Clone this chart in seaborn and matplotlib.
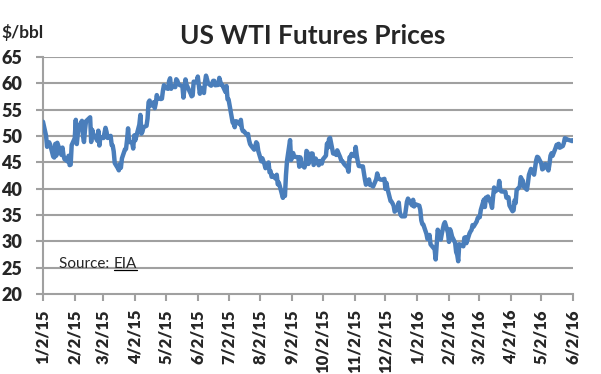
import pandas as pd
import numpy as np
import matplotlib
matplotlib.use('Agg')
import matplotlib.pyplot as plt
import matplotlib.dates as mdates
import seaborn as sns

# WTI daily prices, $/bbl
dates = [
    # 2015
    '2015-01-02','2015-01-05','2015-01-06','2015-01-07','2015-01-08','2015-01-09','2015-01-12','2015-01-13',
    '2015-01-14','2015-01-15','2015-01-16','2015-01-20','2015-01-21','2015-01-22','2015-01-23','2015-01-26',
    '2015-01-27','2015-01-28','2015-01-29','2015-01-30',
    '2015-02-02','2015-02-03','2015-02-04','2015-02-05','2015-02-06','2015-02-09','2015-02-10','2015-02-11',
    '2015-02-12','2015-02-13','2015-02-17','2015-02-18','2015-02-19','2015-02-20','2015-02-23','2015-02-24',
    '2015-02-25','2015-02-26','2015-02-27',
    '2015-03-02','2015-03-03','2015-03-04','2015-03-05','2015-03-06','2015-03-09','2015-03-10','2015-03-11',
    '2015-03-12','2015-03-13','2015-03-16','2015-03-17','2015-03-18','2015-03-19','2015-03-20','2015-03-23',
    '2015-03-24','2015-03-25','2015-03-26','2015-03-27','2015-03-30','2015-03-31',
    '2015-04-01','2015-04-02','2015-04-06','2015-04-07','2015-04-08','2015-04-09','2015-04-10','2015-04-13',
    '2015-04-14','2015-04-15','2015-04-16','2015-04-17','2015-04-20','2015-04-21','2015-04-22','2015-04-23',
    '2015-04-24','2015-04-27','2015-04-28','2015-04-29','2015-04-30',
    '2015-05-01','2015-05-04','2015-05-05','2015-05-06','2015-05-07','2015-05-08','2015-05-11','2015-05-12',
    '2015-05-13','2015-05-14','2015-05-15','2015-05-18','2015-05-19','2015-05-20','2015-05-21','2015-05-22',
    '2015-05-26','2015-05-27','2015-05-28','2015-05-29',
    '2015-06-01','2015-06-02','2015-06-03','2015-06-04','2015-06-05','2015-06-08','2015-06-09','2015-06-10',
    '2015-06-11','2015-06-12','2015-06-15','2015-06-16','2015-06-17','2015-06-18','2015-06-19','2015-06-22',
    '2015-06-23','2015-06-24','2015-06-25','2015-06-26','2015-06-29','2015-06-30',
    '2015-07-01','2015-07-02','2015-07-06','2015-07-07','2015-07-08','2015-07-09','2015-07-10','2015-07-13',
    '2015-07-14','2015-07-15','2015-07-16','2015-07-17','2015-07-20','2015-07-21','2015-07-22','2015-07-23',
    '2015-07-24','2015-07-27','2015-07-28','2015-07-29','2015-07-30','2015-07-31',
    '2015-08-03','2015-08-04','2015-08-05','2015-08-06','2015-08-07','2015-08-10','2015-08-11','2015-08-12',
    '2015-08-13','2015-08-14','2015-08-17','2015-08-18','2015-08-19','2015-08-20','2015-08-21','2015-08-24',
    '2015-08-25','2015-08-26','2015-08-27','2015-08-28','2015-08-31',
    '2015-09-01','2015-09-02','2015-09-03','2015-09-04','2015-09-08','2015-09-09','2015-09-10','2015-09-11',
    '2015-09-14','2015-09-15','2015-09-16','2015-09-17','2015-09-18','2015-09-21','2015-09-22','2015-09-23',
    '2015-09-24','2015-09-25','2015-09-28','2015-09-29','2015-09-30',
    '2015-10-01','2015-10-02','2015-10-05','2015-10-06','2015-10-07','2015-10-08','2015-10-09','2015-10-12',
    '2015-10-13','2015-10-14','2015-10-15','2015-10-16','2015-10-19','2015-10-20','2015-10-21','2015-10-22',
    '2015-10-23','2015-10-26','2015-10-27','2015-10-28','2015-10-29','2015-10-30',
    '2015-11-02','2015-11-03','2015-11-04','2015-11-05','2015-11-06','2015-11-09','2015-11-10','2015-11-11',
    '2015-11-12','2015-11-13','2015-11-16','2015-11-17','2015-11-18','2015-11-19','2015-11-20','2015-11-23',
    '2015-11-24','2015-11-25','2015-11-27','2015-11-30',
    '2015-12-01','2015-12-02','2015-12-03','2015-12-04','2015-12-07','2015-12-08','2015-12-09','2015-12-10',
    '2015-12-11','2015-12-14','2015-12-15','2015-12-16','2015-12-17','2015-12-18','2015-12-21','2015-12-22',
    '2015-12-23','2015-12-24','2015-12-28','2015-12-29','2015-12-30','2015-12-31',
    # 2016
    '2016-01-04','2016-01-05','2016-01-06','2016-01-07','2016-01-08','2016-01-11','2016-01-12','2016-01-13',
    '2016-01-14','2016-01-15','2016-01-19','2016-01-20','2016-01-21','2016-01-22','2016-01-25','2016-01-26',
    '2016-01-27','2016-01-28','2016-01-29',
    '2016-02-01','2016-02-02','2016-02-03','2016-02-04','2016-02-05','2016-02-08','2016-02-09','2016-02-10',
    '2016-02-11','2016-02-12','2016-02-16','2016-02-17','2016-02-18','2016-02-19','2016-02-22','2016-02-23',
    '2016-02-24','2016-02-25','2016-02-26','2016-02-29',
    '2016-03-01','2016-03-02','2016-03-03','2016-03-04','2016-03-07','2016-03-08','2016-03-09','2016-03-10',
    '2016-03-11','2016-03-14','2016-03-15','2016-03-16','2016-03-17','2016-03-18','2016-03-21','2016-03-22',
    '2016-03-23','2016-03-24','2016-03-28','2016-03-29','2016-03-30','2016-03-31',
    '2016-04-01','2016-04-04','2016-04-05','2016-04-06','2016-04-07','2016-04-08','2016-04-11','2016-04-12',
    '2016-04-13','2016-04-14','2016-04-15','2016-04-18','2016-04-19','2016-04-20','2016-04-21','2016-04-22',
    '2016-04-25','2016-04-26','2016-04-27','2016-04-28','2016-04-29',
    '2016-05-02','2016-05-03','2016-05-04','2016-05-05','2016-05-06','2016-05-09','2016-05-10','2016-05-11',
    '2016-05-12','2016-05-13','2016-05-16','2016-05-17','2016-05-18','2016-05-19','2016-05-20','2016-05-23',
    '2016-05-24','2016-05-25','2016-05-26','2016-05-27','2016-05-31',
    '2016-06-01','2016-06-02',
]

prices = [
    52.69,50.04,47.93,48.65,48.79,48.36,46.07,45.89,
    48.48,46.25,48.69,46.39,47.78,46.31,45.59,45.15,
    46.23,44.45,44.53,48.24,
    49.57,53.05,48.45,50.48,51.69,52.86,50.02,48.84,
    51.21,52.78,53.53,48.84,51.16,50.34,49.45,49.07,
    50.99,48.17,49.76,
    49.59,50.52,51.53,50.76,49.61,50.00,48.29,48.17,
    47.05,44.84,43.88,43.46,44.66,43.96,45.72,47.45,
    47.51,49.21,51.43,48.87,48.68,47.60,
    50.09,49.14,52.14,53.98,50.42,50.79,51.64,51.91,
    53.29,56.39,56.71,55.74,56.38,55.26,56.16,57.74,
    57.15,56.99,57.06,58.58,59.63,
    59.15,58.93,60.40,60.93,58.94,59.39,59.25,60.75,
    60.50,59.88,59.69,59.43,57.26,58.98,60.72,59.72,
    58.03,57.51,57.68,60.30,
    60.20,61.26,59.64,58.00,59.13,58.14,60.14,61.43,
    60.77,59.96,59.52,59.97,60.45,60.45,59.61,59.68,
    61.01,60.27,59.70,59.63,58.33,59.47,
    56.96,56.93,52.53,52.33,51.65,52.78,52.74,52.20,
    53.04,51.41,50.91,50.89,50.15,50.36,49.19,48.45,
    48.14,47.39,47.98,48.79,48.52,47.12,
    45.17,45.74,45.15,44.66,43.87,44.96,43.08,43.30,
    42.23,42.50,41.87,42.62,40.80,41.14,40.45,38.24,
    39.31,38.60,42.56,45.22,49.20,
    45.41,46.25,46.75,46.05,45.94,44.15,45.92,44.63,
    44.00,44.59,47.15,46.90,44.68,46.68,46.63,44.48,
    44.91,45.70,44.43,45.23,45.09,
    44.74,45.54,46.26,48.53,47.81,49.43,49.63,46.66,
    46.66,46.64,46.38,47.26,45.89,45.29,45.20,44.91,
    44.60,43.98,43.20,45.94,46.06,46.59,
    46.14,47.90,46.32,45.20,44.29,44.21,44.21,42.93,
    41.75,40.74,41.74,40.67,40.75,40.54,40.39,41.75,
    42.87,42.04,41.71,41.65,
    41.85,39.94,41.08,39.97,37.65,37.51,37.16,36.76,
    35.62,36.31,37.35,35.52,34.95,34.73,34.74,36.14,
    37.50,38.10,36.81,37.87,36.60,37.04,
    36.76,35.97,33.97,33.27,33.16,31.41,30.44,30.48,
    31.20,29.42,28.46,26.55,29.53,32.19,30.34,31.45,
    32.30,33.22,33.62,
    31.62,29.88,32.28,31.72,30.89,29.69,27.94,27.45,
    26.21,29.44,29.04,30.66,30.77,29.64,31.48,31.87,
    32.15,33.07,32.78,33.75,
    34.40,34.66,34.57,35.92,37.90,36.50,38.29,37.84,
    38.50,37.18,36.34,38.46,40.20,39.44,39.91,41.45,
    39.79,39.46,39.39,38.28,38.32,38.34,
    36.79,35.70,35.89,37.75,37.26,39.72,40.36,42.17,
    41.76,41.50,40.36,39.78,41.08,42.63,43.18,43.73,
    42.64,44.04,45.33,46.03,45.92,
    44.78,43.65,43.78,44.32,44.66,43.44,44.66,46.23,
    46.70,46.21,47.72,48.31,48.19,48.49,47.75,48.08,
    48.62,49.56,49.48,49.33,49.10,
    49.01,49.17,
]

y_ticks = [20, 25, 30, 35, 40, 45, 50, 55, 60, 65]
tick_dates = pd.date_range('2015-01-01', '2016-06-01', freq='MS') + pd.Timedelta(days=1)

df = pd.DataFrame({'date': pd.to_datetime(dates), 'price': prices})

sns.set_style('white')
plt.rcParams['font.family'] = ['Lato', 'DejaVu Sans']

fig = plt.figure(figsize=(6.01, 3.74), dpi=100)
ax = fig.add_axes([0.0715, 0.214, 0.882, 0.634])

grid_c = '#a0a0a0'
for v in y_ticks[1:]:
    ax.axhline(v, color=grid_c, lw=1.5, zorder=0)

sns.lineplot(data=df, x='date', y='price', ax=ax, color='#4a7ebb', lw=3.2, zorder=3)

ax.set_ylim(20, 65)
ax.set_xlim(pd.Timestamp('2015-01-02'), pd.Timestamp('2016-06-02'))
ax.set_yticks(y_ticks)
ax.set_xticks(tick_dates)
ax.set_xticklabels([f'{d.month}/{d.day}/{d.year % 100}' for d in tick_dates],
                   rotation=90, fontsize=12, fontweight='heavy')
ax.set_yticklabels([str(v) for v in y_ticks], fontsize=13, fontweight='heavy')
ax.set_xlabel('')
ax.set_ylabel('')

for s in ['top', 'right']:
    ax.spines[s].set_visible(False)
for s in ['left', 'bottom']:
    ax.spines[s].set_color(grid_c)
    ax.spines[s].set_linewidth(1.5)
ax.tick_params(axis='both', which='major', direction='out', length=5, width=1.5,
               color=grid_c, left=True, bottom=True)
ax.tick_params(axis='x', pad=6)
ax.tick_params(axis='y', pad=10)

fig.text(0.52, 0.905, 'US WTI Futures Prices', ha='center', va='center',
         fontsize=19, fontweight='bold')
fig.text(0.003, 0.913, '$/bbl', ha='left', va='center', fontsize=12.5, fontweight='bold')

# source note, "EIA" underlined like a hyperlink
src = ax.text(pd.Timestamp('2015-01-18'), 25, 'Source: ', ha='left', va='baseline', fontsize=11)
fig.canvas.draw()
r = fig.canvas.get_renderer()
bb = src.get_window_extent(r)
inv = fig.transFigure.inverted()
x0 = inv.transform((bb.x1, bb.y0))[0]
y_base = ax.transData.transform((0, 25))[1]
yb = inv.transform((0, y_base))[1]
eia = fig.text(x0, yb, 'EIA', ha='left', va='baseline', fontsize=11)
fig.canvas.draw()
eb = eia.get_window_extent(r)
ex0 = inv.transform((eb.x0, 0))[0]
ex1 = inv.transform((eb.x1, 0))[0]
uy = inv.transform((0, y_base - 2.5))[1]
fig.add_artist(plt.Line2D([ex0, ex1], [uy, uy], color='black', lw=0.9))

fig.savefig('out.png', dpi=100)
